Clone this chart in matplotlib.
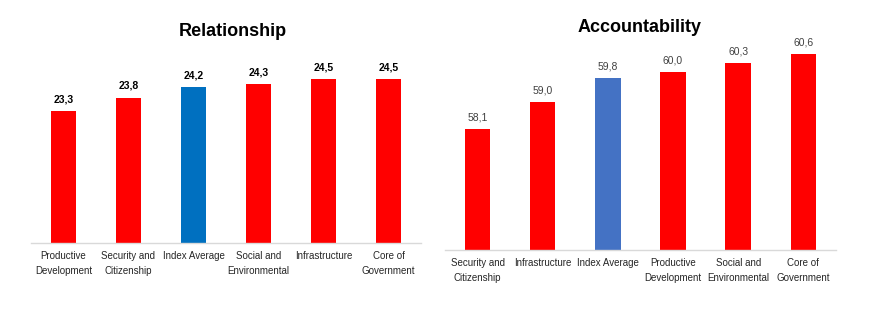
import matplotlib
matplotlib.use("Agg")
import matplotlib.pyplot as plt

plt.rcParams['font.family'] = ['Liberation Sans Narrow', 'Liberation Sans', 'DejaVu Sans']

# Relationship panel
rel_categories = ["Productive\nDevelopment", "Security and\nCitizenship", "Index Average",
                  "Social and\nEnvironmental", "Infrastructure", "Core of\nGovernment"]
rel_values = [23.3, 23.8, 24.2, 24.3, 24.5, 24.5]
rel_labels = ["23,3", "23,8", "24,2", "24,3", "24,5", "24,5"]

# Accountability panel
acc_categories = ["Security and\nCitizenship", "Infrastructure", "Index Average",
                  "Productive\nDevelopment", "Social and\nEnvironmental", "Core of\nGovernment"]
acc_values = [58.1, 59.0, 59.8, 60.0, 60.3, 60.6]
acc_labels = ["58,1", "59,0", "59,8", "60,0", "60,3", "60,6"]

RED = "#FF0000"


def draw_panel(ax, cats, vals, labels, avg_color, ylim, label_bold, label_color):
    colors = [avg_color if c == "Index Average" else RED for c in cats]
    x = range(len(cats))
    ax.bar(x, vals, width=0.39, color=colors)
    ax.set_ylim(*ylim)
    ax.set_xlim(-0.5, len(cats) - 0.5)
    for i, (v, lab) in enumerate(zip(vals, labels)):
        ax.annotate(lab, (i, v), xytext=(0, 5), textcoords="offset points",
                    ha="center", va="bottom", fontsize=7.5,
                    fontweight="bold" if label_bold else "normal", color=label_color)
    ax.set_xticks(list(x))
    ax.set_xticklabels(cats, fontsize=7, color="#262626", linespacing=1.55)
    ax.tick_params(axis="x", length=0, pad=6)
    ax.set_yticks([])
    for s in ["top", "right", "left"]:
        ax.spines[s].set_visible(False)
    ax.spines["bottom"].set_color("#D9D9D9")
    ax.spines["bottom"].set_linewidth(1)


fig = plt.figure(figsize=(8.93, 3.19), dpi=100)

ax1 = fig.add_axes([0.0347, 0.2382, 0.4367, 0.5737])
draw_panel(ax1, rel_categories, rel_values, rel_labels, "#0070C0",
           (18.35, 25.21), True, "black")
fig.text(233 / 893, 1 - 31 / 319, "Relationship", fontsize=13, fontweight="bold",
         ha="center", va="center")

ax2 = fig.add_axes([0.4983, 0.2163, 0.4378, 0.6583])
draw_panel(ax2, acc_categories, acc_values, acc_labels, "#4472C4",
           (54.07, 61.07), False, "#404040")
fig.text(640 / 893, 1 - 28 / 319, "Accountability", fontsize=13, fontweight="bold",
         ha="center", va="center")

fig.savefig("out.png", dpi=100)
